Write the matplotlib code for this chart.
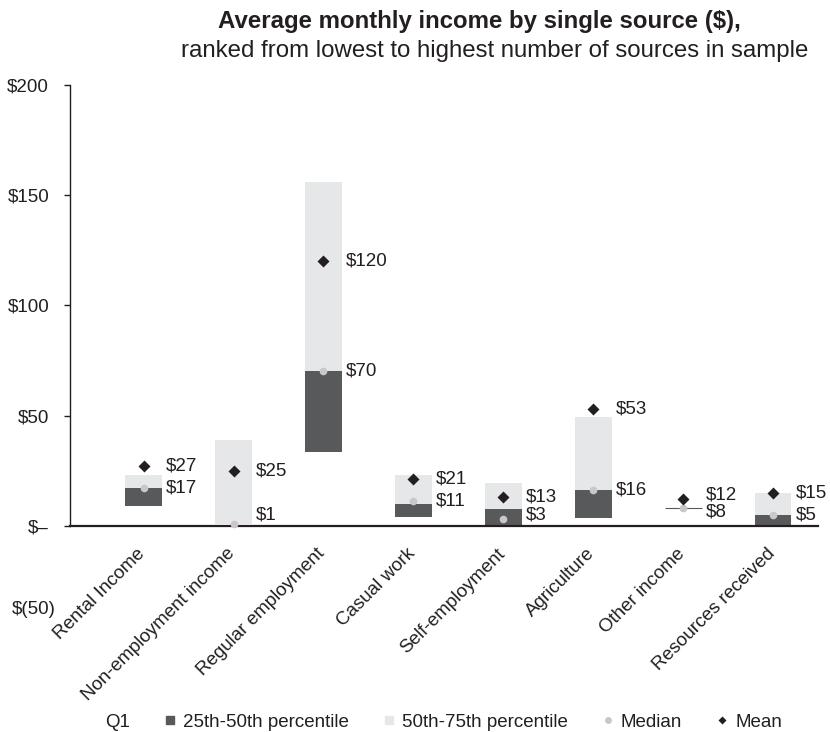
import matplotlib
matplotlib.use("Agg")
import matplotlib.pyplot as plt
import matplotlib.transforms as mtransforms
from matplotlib.lines import Line2D
import numpy as np

plt.rcParams["font.family"] = ["Liberation Sans", "DejaVu Sans"]

# income sources, lowest to highest number of sources in sample
sources = ["Rental Income", "Non-employment income", "Regular employment",
           "Casual work", "Self-employment", "Agriculture", "Other income",
           "Resources received"]
q1 = [9, 1, 33.5, 4, 0, 3.7, 8, 0]              # 25th percentile
q2 = [17, 1, 70, 10, 7.5, 16, 8, 5]             # top of dark band
q3 = [23, 39, 156, 23, 19.4, 49.4, 8, 14.7]     # 75th percentile
median = [17, 1, 70, 11, 3, 16, 8, 5]
mean = [27, 25, 120, 21, 13, 53, 12, 15]

yticks = [-50, 0, 50, 100, 150, 200]
yticklabels = ["$(50)", "$\u2013", "$50", "$100", "$150", "$200"]

DARK = "#58595b"
LIGHT = "#e6e7e8"
MED = "#c8c8c8"
INK = "#231f20"

fig = plt.figure(figsize=(8.3, 7.32), dpi=100)
ax = fig.add_axes([0.0843, 0.1313, 0.9012, 0.7526])

# spine placement first: moving a spine resets the tick objects
for s in ["top", "right"]:
    ax.spines[s].set_visible(False)
ax.spines["bottom"].set_position(("data", 0))
ax.spines["bottom"].set_linewidth(1.6)
ax.spines["bottom"].set_color(INK)
ax.spines["left"].set_linewidth(1.0)
ax.spines["left"].set_color(INK)

x = np.arange(len(sources))
q1 = np.array(q1, float)
q2 = np.array(q2, float)
q3 = np.array(q3, float)
w = 0.41

ax.bar(x, q2 - q1, w, bottom=q1, color=DARK, zorder=2)
ax.bar(x, q3 - q2, w, bottom=q2, color=LIGHT, zorder=2)
# collapsed boxes show up as a thin line
for i in x:
    if q3[i] == q1[i]:
        ax.hlines(median[i], i - w / 2, i + w / 2, color=DARK, lw=0.8, zorder=2)

ax.plot(x, median, "o", color=MED, ms=5.5, mec="none", zorder=3)
ax.plot(x, mean, "D", color=INK, ms=6, mec="none", zorder=3)

# value labels, pushed apart where mean and median crowd each other
for i in x:
    ym, yd = mean[i], max(median[i], 5)
    if ym - yd < 8:
        mid = (ym + yd) / 2
        ym, yd = mid + 4, mid - 4
    ax.text(i + 0.25, ym, f"${mean[i]:.0f}", ha="left", va="center",
            fontsize=13.5, color=INK)
    ax.text(i + 0.25, yd, f"${median[i]:.0f}", ha="left", va="center",
            fontsize=13.5, color=INK)

ax.set_xlim(-0.82, 7.5)
ax.set_ylim(-50, 200)
ax.spines["left"].set_bounds(0, 200)
ax.set_yticks(yticks)
ax.set_yticklabels(yticklabels, fontsize=13.5, color=INK)
ax.set_xticks(x)
ax.set_xticklabels(sources, rotation=45, ha="right", fontsize=13.5, color=INK)
ax.tick_params(axis="x", length=0, pad=14)
ax.tick_params(axis="y", length=4, width=1, pad=11, color=INK)

# nudge the slanted category names so they end just past the bar centre
nudge = mtransforms.ScaledTranslation(0.05, 0, fig.dpi_scale_trans)
for lab in ax.get_xticklabels():
    lab.set_transform(lab.get_transform() + nudge)

# the (50) label sits tucked up under the axis
ax.yaxis.get_major_ticks()[0].tick1line.set_visible(False)
lab = ax.get_yticklabels()[0]
lab.set_transform(lab.get_transform() +
                  mtransforms.ScaledTranslation(0.07, 0.28, fig.dpi_scale_trans))

fig.text(0.578, 0.970, "Average monthly income by single source ($),",
         ha="center", va="center", fontsize=17.3, fontweight="bold", color=INK)
fig.text(0.596, 0.930, "ranked from lowest to highest number of sources in sample",
         ha="center", va="center", fontsize=17.3, color=INK)

handles = [
    Line2D([], [], ls="none", marker="s", color="white", ms=6),
    Line2D([], [], ls="none", marker="s", color=DARK, ms=6),
    Line2D([], [], ls="none", marker="s", color=LIGHT, ms=6),
    Line2D([], [], ls="none", marker="o", color=MED, ms=5, mec="none"),
    Line2D([], [], ls="none", marker="D", color=INK, ms=4, mec="none"),
]
labels = ["Q1", "25th-50th percentile", "50th-75th percentile", "Median", "Mean"]
fig.legend(handles, labels, loc="center", bbox_to_anchor=(0.522, 0.0137), ncol=5,
           frameon=False, fontsize=13.5, handlelength=0.8, handletextpad=0.3,
           columnspacing=1.73, labelcolor=INK, borderpad=0, borderaxespad=0)

fig.savefig("out.png", dpi=100, facecolor="white")
